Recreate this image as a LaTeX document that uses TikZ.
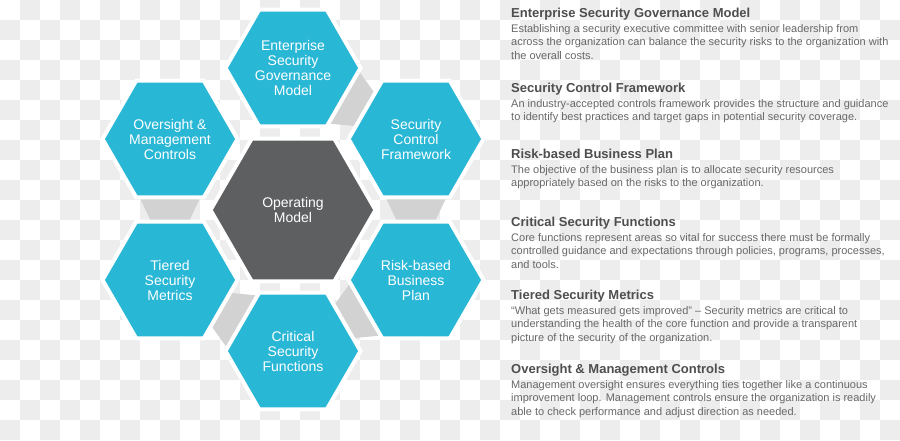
\documentclass[tikz,border=0pt]{standalone}
\usepackage{fontspec}
\setmainfont{Liberation Sans}
\usepackage{tikz}
\usetikzlibrary{shapes.geometric}
\usetikzlibrary{calc}
\usetikzlibrary{backgrounds}

\definecolor{hexblue}{RGB}{41,183,214}
\definecolor{hexdark}{RGB}{94,95,97}
\definecolor{linkgray}{RGB}{210,210,210}
\definecolor{checkgray}{RGB}{237,237,237}
\definecolor{headgray}{RGB}{78,78,78}
\definecolor{bodygray}{RGB}{104,104,104}

\tikzset{
  cell/.style={regular polygon, regular polygon sides=6, minimum size=135pt, inner sep=0pt, outer sep=0pt,
    fill=hexblue, draw=white, line width=4pt, text=white, align=center, font=\fontsize{14}{15}\selectfont},
  core/.style={cell, minimum size=165pt, fill=hexdark},
  link/.style={fill=linkgray},
  head/.style={anchor=base west, inner sep=0pt, text=headgray, font=\bfseries\fontsize{13}{15}\selectfont},
  body/.style={anchor=base west, inner sep=0pt, text=bodygray, align=left, font=\fontsize{11}{13.5}\selectfont},
}

\begin{document}
\begin{tikzpicture}[x=1pt, y=-1pt]
  \useasboundingbox (0,0) rectangle (900,440);
  \begin{scope}[on background layer]
    \fill[white] (0,0) rectangle (900,440);
    \foreach \i in {0,...,44}
      \foreach \j in {0,...,21} {
        \pgfmathtruncatemacro\sq{\i+\j}
        \ifodd\sq \fill[checkgray] (20*\i,20*\j) rectangle ++(20,20); \fi
      }
  \end{scope}

  % hexagons
  \node[core] (op) at (293,210) {Operating\\Model};
  \node[cell] (es) at (293,68) {Enterprise\\Security\\Governance\\Model};
  \node[cell] (sc) at (416,139) {Security\\Control\\Framework};
  \node[cell] (rb) at (416,280) {Risk-based\\Business\\Plan};
  \node[cell] (cf) at (293,351) {Critical\\Security\\Functions};
  \node[cell] (tm) at (170,280) {Tiered\\Security\\Metrics};
  \node[cell] (om) at (170,139) {Oversight \&\\Management\\Controls};

  % links between neighbours
  \begin{scope}[on background layer]
    \fill[link] ($(es.0)!0.05!(es.300)$) -- ($(es.0)!0.95!(es.300)$)
      -- ($(sc.120)!0.78!(sc.180)$) -- ($(sc.120)!0.22!(sc.180)$) -- cycle;
    \fill[link] ($(sc.240)!0.05!(sc.300)$) -- ($(sc.240)!0.95!(sc.300)$)
      -- ($(rb.120)!0.78!(rb.60)$) -- ($(rb.120)!0.22!(rb.60)$) -- cycle;
    \fill[link] ($(rb.180)!0.05!(rb.240)$) -- ($(rb.180)!0.95!(rb.240)$)
      -- ($(cf.60)!0.78!(cf.0)$) -- ($(cf.60)!0.22!(cf.0)$) -- cycle;
    \fill[link] ($(cf.120)!0.05!(cf.180)$) -- ($(cf.120)!0.95!(cf.180)$)
      -- ($(tm.0)!0.78!(tm.300)$) -- ($(tm.0)!0.22!(tm.300)$) -- cycle;
    \fill[link] ($(om.240)!0.05!(om.300)$) -- ($(om.240)!0.95!(om.300)$)
      -- ($(tm.120)!0.78!(tm.60)$) -- ($(tm.120)!0.22!(tm.60)$) -- cycle;
  \end{scope}

  % descriptions (body nodes sit on the baseline of their last line)
  \node[head] (esHead) at (511,17.5) {Enterprise Security Governance Model};
  \node[body] (esText) at ($(esHead.base west)+(0,41.5)$) {Establishing a security executive committee with senior leadership from\\across the organization can balance the security risks to the organization with\\the overall costs.};
  \node[head] (scHead) at (511,92.5) {Security Control Framework};
  \node[body] (scText) at ($(scHead.base west)+(0,28)$) {An industry-accepted controls framework provides the structure and guidance\\to identify best practices and target gaps in potential security coverage.};
  \node[head] (rbHead) at (511,158.5) {Risk-based Business Plan};
  \node[body] (rbText) at ($(rbHead.base west)+(0,28)$) {The objective of the business plan is to allocate security resources\\appropriately based on the risks to the organization.};
  \node[head] (cfHead) at (511,226.5) {Critical Security Functions};
  \node[body] (cfText) at ($(cfHead.base west)+(0,41.5)$) {Core functions represent areas so vital for success there must be formally\\controlled guidance and expectations through policies, programs, processes,\\and tools.};
  \node[head] (tmHead) at (511,299.5) {Tiered Security Metrics};
  \node[body] (tmText) at ($(tmHead.base west)+(0,41.5)$) {“What gets measured gets improved” – Security metrics are critical to\\understanding the health of the core function and provide a transparent\\picture of the security of the organization.};
  \node[head] (omHead) at (511,373.5) {Oversight \& Management Controls};
  \node[body] (omText) at ($(omHead.base west)+(0,41.5)$) {Management oversight ensures everything ties together like a continuous\\improvement loop. Management controls ensure the organization is readily\\able to check performance and adjust direction as needed.};
\end{tikzpicture}
\end{document}
